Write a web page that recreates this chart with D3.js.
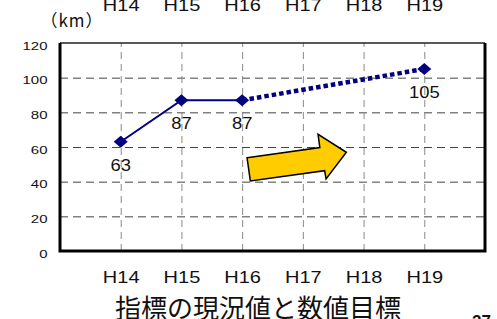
<!DOCTYPE html>
<html>
<head>
<meta charset="utf-8">
<script src="https://cdn.jsdelivr.net/npm/d3@7"></script>
<style>
  body { margin: 0; background: #fff; }
  svg { display: block; font-family: "Liberation Sans", Arial, sans-serif; }
</style>
</head>
<body>
<svg id="chart" width="497" height="319"></svg>
<script>
// Chart data
const years = ["H14", "H15", "H16", "H17", "H18", "H19"];
const actualYears = ["H14", "H15", "H16"];
const actualValues = [63, 87, 87];
const targetYears = ["H16", "H19"];
const targetValues = [87, 105];
const yTicks = [0, 20, 40, 60, 80, 100, 120];
const labelYears = ["H14", "H15", "H16", "H19"];
const labelValues = [63, 87, 87, 105];

const navy = "#000080";
const plotLeft = 60, plotRight = 485, plotTop = 43, plotBottom = 251;

const svg = d3.select("#chart");

const x = d3.scalePoint().domain(years).range([plotLeft, plotRight]).padding(1);
const y = d3.scaleLinear().domain([0, 120]).range([plotBottom, plotTop]);

// Horizontal grid
svg.append("g")
  .attr("transform", "translate(" + plotLeft + ",0)")
  .call(d3.axisLeft(y).tickValues(yTicks.slice(1, -1)).tickSize(-(plotRight - plotLeft)).tickFormat(""))
  .call(g => g.select(".domain").remove())
  .selectAll("line")
  .attr("stroke", "#444")
  .attr("stroke-dasharray", "8,5");

// Vertical grid
svg.append("g")
  .attr("transform", "translate(0," + plotBottom + ")")
  .call(d3.axisBottom(x).tickSize(-(plotBottom - plotTop)).tickFormat(""))
  .call(g => g.select(".domain").remove())
  .selectAll("line")
  .attr("stroke", "#888")
  .attr("stroke-dasharray", "7,5");

// Frame
svg.append("line").attr("x1", plotLeft).attr("x2", plotRight).attr("y1", plotTop).attr("y2", plotTop)
  .attr("stroke", "#222").attr("stroke-width", 1.5);
svg.append("path")
  .attr("d", "M" + plotLeft + "," + plotTop + "V" + plotBottom + "H" + plotRight + "V" + plotTop)
  .attr("fill", "none").attr("stroke", "#000").attr("stroke-width", 3);

// Y tick labels
svg.append("g")
  .attr("transform", "translate(" + plotLeft + ",0)")
  .call(d3.axisLeft(y).tickValues(yTicks).tickSize(0))
  .call(g => g.select(".domain").remove())
  .selectAll("text")
  .attr("x", 0).attr("y", 0).attr("dy", null)
  .attr("font-size", 10)
  .attr("fill", "#111")
  .attr("transform", "translate(-12.5,6) scale(1.5,1)");

// X tick labels bottom and top (top row is cut by the page edge, as in the source)
[[plotBottom, 32], [0, 11]].forEach(([gy, ty]) => {
  svg.append("g")
    .attr("transform", "translate(0," + gy + ")")
    .call(d3.axisBottom(x).tickSize(0))
    .call(g => g.select(".domain").remove())
    .selectAll("text")
    .attr("x", 0).attr("y", 0).attr("dy", null)
    .attr("font-size", 16)
    .attr("fill", "#111")
    .attr("transform", "translate(0," + ty + ") scale(1.25,1)");
});

// Lines
const line = d3.line().x(d => x(d[0])).y(d => y(d[1]));
svg.append("path")
  .datum(d3.zip(actualYears, actualValues))
  .attr("d", line)
  .attr("fill", "none").attr("stroke", navy).attr("stroke-width", 2);
svg.append("path")
  .datum(d3.zip(targetYears, targetValues))
  .attr("d", line)
  .attr("fill", "none").attr("stroke", navy).attr("stroke-width", 4.5)
  .attr("stroke-dasharray", "4.5,3");

// Markers
const markers = d3.zip(actualYears, actualValues).concat([[targetYears[1], targetValues[1]]]);
svg.selectAll(".marker")
  .data(markers)
  .enter()
  .append("path")
  .attr("class", "marker")
  .attr("d", "M0,-6L7,0L0,6L-7,0Z")
  .attr("transform", d => "translate(" + x(d[0]) + "," + y(d[1]) + ")")
  .attr("fill", navy);

// Value labels
svg.selectAll(".vlabel")
  .data(d3.zip(labelYears, labelValues))
  .enter()
  .append("text")
  .attr("class", "vlabel")
  .attr("text-anchor", "middle")
  .attr("font-size", 16)
  .attr("fill", "#111")
  .attr("transform", d => "translate(" + x(d[0]) + "," + (y(d[1]) + 29) + ") scale(1.15,1)")
  .text(d => d[1]);

// Arrow
const ax = x("H16"), ay = y(40);
const arrow = [[4.9, -24], [77.7, -34.1], [75.9, -47.4], [104.2, -29.4], [83.9, -2.7], [82.5, -11], [8.2, -0.7]];
svg.append("path")
  .attr("d", "M" + arrow.map(p => (ax + p[0]) + "," + (ay + p[1])).join("L") + "Z")
  .attr("fill", "#FFCC00")
  .attr("stroke", "#000")
  .attr("stroke-width", 1.5)
  .attr("stroke-linejoin", "miter");

// Unit, title, page number
svg.append("text")
  .attr("x", 72).attr("y", 27)
  .attr("text-anchor", "middle")
  .attr("font-family", "'Noto Sans CJK JP', sans-serif")
  .attr("font-size", 17)
  .attr("fill", "#111")
  .attr("letter-spacing", 1)
  .text("（km）");

svg.append("text")
  .attr("x", 258).attr("y", 318)
  .attr("text-anchor", "middle")
  .attr("font-family", "'Noto Sans CJK JP', sans-serif")
  .attr("font-size", 26)
  .attr("fill", "#111")
  .text("指標の現況値と数値目標");

svg.append("text")
  .attr("x", 472).attr("y", 327)
  .attr("font-size", 17)
  .attr("font-weight", "bold")
  .attr("fill", "#111")
  .text("27");
</script>
</body>
</html>
